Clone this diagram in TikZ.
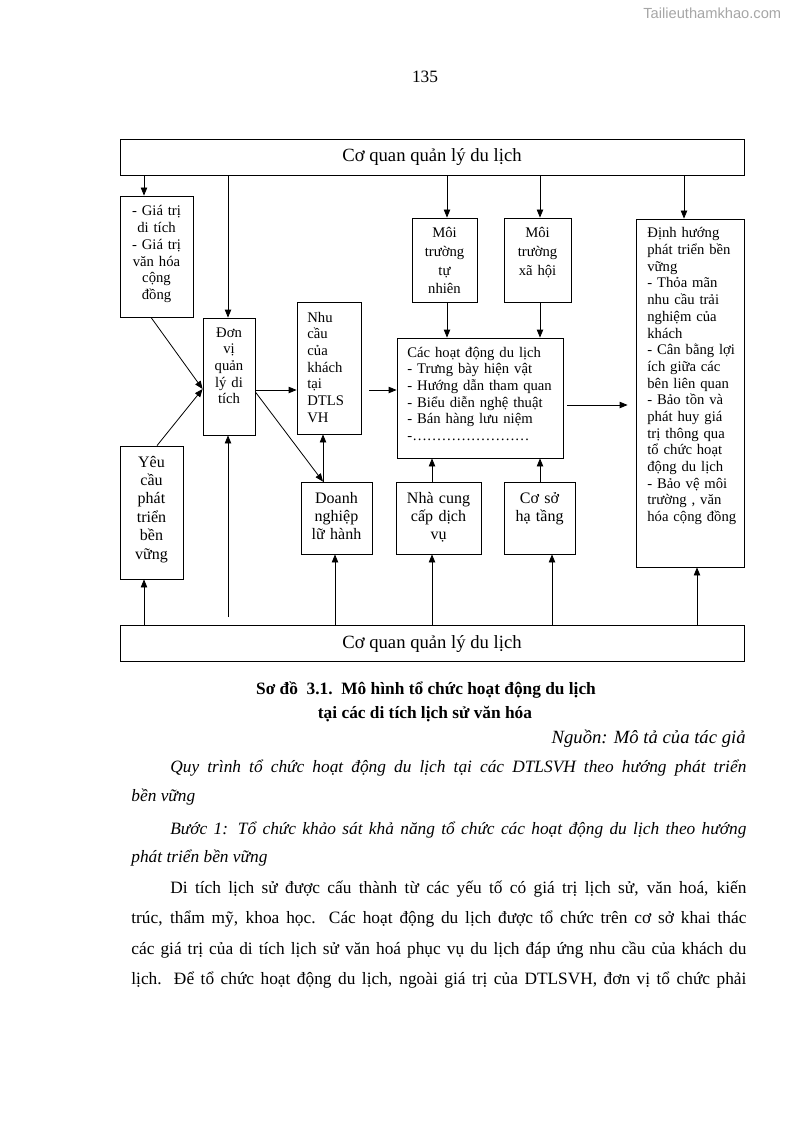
\documentclass[tikz,border=0pt]{standalone}
\usepackage{fontspec}
\setmainfont{Liberation Serif}
\newfontfamily\wmfont{Liberation Sans}
\usetikzlibrary{positioning, arrows.meta, fit}

\begin{document}
\begin{tikzpicture}[x=0.75pt, y=-0.75pt, line width=0.6pt, >={Triangle[length=6pt, width=4.8pt]},
    arr/.style={->},
    box/.style={draw, inner sep=0pt, fit={#1}},
    txt/.style={inner sep=0pt, font=\fontsize{11}{12.5}\selectfont},
    ctr/.style={txt, align=center, anchor=base},
    lft/.style={txt, align=left, anchor=base west},
    mid/.style={font=\fontsize{12}{13.8}\selectfont},
    head/.style={inner sep=0pt, anchor=base, font=\fontsize{14}{16}\selectfont},
    body/.style={inner sep=0pt, anchor=base west, font=\fontsize{13}{15}\selectfont},
    bodyit/.style={body, font=\itshape\fontsize{13}{15}\selectfont}]
    \useasboundingbox (0,0) rectangle (794,1123);

    \node[font=\wmfont\fontsize{11}{13}\selectfont, text=black!35, anchor=base east] (wm) at (786,19) {Tailieuthamkhao.com};
    \node[font=\fontsize{13}{15}\selectfont, anchor=base] (pnum) at (425,83) {135};

    \node[box={(120,139)(744,175)}] (topq) {};
    \node[head] (topq-t) at (432,162) {Cơ quan quản lý du lịch};
    \node[box={(120,625)(744,661)}] (botq) {};
    \node[head] (botq-t) at (432,648) {Cơ quan quản lý du lịch};

    \node[box={(120,196)(193,317)}] (giatri) {};
    \node[ctr, text width=52pt] (giatri-t) at (156.5,216) {- Giá trị\\di tích\\- Giá trị\\văn hóa\\cộng\\đồng};
    \node[box={(203,318)(255,435)}] (donvi) {};
    \node[ctr, text width=36pt] (donvi-t) at (229,337) {Đơn\\vị\\quản\\lý di\\tích};
    \node[box={(297,302)(361,434)}] (nhucau) {};
    \node[lft, text width=40pt] (nhucau-t) at (307,322) {Nhu\\cầu\\của\\khách\\tại\\DTLS\\VH};
    \node[box={(412,218)(477,302)}] (moitn) {};
    \node[ctr, text width=46pt, font=\fontsize{11}{14}\selectfont] (moitn-t) at (444.5,238) {Môi\\trường\\tự\\nhiên};
    \node[box={(504,218)(571,302)}] (moixh) {};
    \node[ctr, text width=46pt, font=\fontsize{11}{14}\selectfont] (moixh-t) at (537.5,238) {Môi\\trường\\xã hội};
    \node[box={(397,338)(563,458)}] (hoatdong) {};
    \node[lft, text width=118pt] (hoatdong-t) at (407,357) {Các hoạt động du lịch\\- Trưng bày hiện vật\\- Hướng dẫn tham quan\\- Biểu diễn nghệ thuật\\- Bán hàng lưu niệm\\-……………………};
    \node[box={(636,219)(744,567)}] (dinhhuong) {};
    \node[lft, text width=76pt] (dinhhuong-t) at (647,238) {Định hướng\\phát triển bền\\vững\\- Thỏa mãn\\nhu cầu trải\\nghiệm của\\khách\\- Cân bằng lợi\\ích giữa các\\bên liên quan\\- Bảo tồn và\\phát huy giá\\trị thông qua\\tổ chức hoạt\\động du lịch\\- Bảo vệ môi\\trường , văn\\hóa cộng đồng};
    \node[box={(120,446)(183,579)}] (yeucau) {};
    \node[ctr, mid, text width=44pt] (yeucau-t) at (151.5,467) {Yêu\\cầu\\phát\\triển\\bền\\vững};
    \node[box={(301,482)(372,554)}] (doanhng) {};
    \node[ctr, mid, text width=50pt] (doanhng-t) at (336.5,503) {Doanh\\nghiệp\\lữ hành};
    \node[box={(396,482)(481,554)}] (nhacung) {};
    \node[ctr, mid, text width=60pt] (nhacung-t) at (438.5,503) {Nhà cung\\cấp dịch\\vụ};
    \node[box={(504,482)(575,554)}] (cosoht) {};
    \node[ctr, mid, text width=50pt] (cosoht-t) at (539.5,503) {Cơ sở\\hạ tầng};

    \foreach \x/\n in {144/giatri, 228/donvi, 447/moitn, 540/moixh, 684/dinhhuong}
        \draw[arr] (topq.south -| \x,0) -- (\n.north -| \x,0);
    \foreach \x/\n in {447/moitn, 540/moixh}
        \draw[arr] (\n.south -| \x,0) -- (hoatdong.north -| \x,0);
    \foreach \x/\n in {432/nhacung, 540/cosoht}
        \draw[arr] (\n.north -| \x,0) -- (hoatdong.south -| \x,0);
    \foreach \x/\n in {144/yeucau, 335/doanhng, 432/nhacung, 552/cosoht, 697/dinhhuong}
        \draw[arr] (botq.north -| \x,0) -- (\n.south -| \x,0);

    \coordinate (gap) at (228,617);
    \draw[arr] (gap) -- (donvi.south -| gap);
    \draw[arr] (giatri.south -| 151,0) -- (donvi.west |- 0,389);
    \draw[arr] (yeucau.north -| 157,0) -- (donvi.west |- 0,389);
    \draw[arr] (donvi.east |- 0,390) -- (nhucau.west |- 0,390);
    \draw[arr] (donvi.east |- 0,392) -- (doanhng.north -| 323,0);
    \draw[arr] (doanhng.north -| 323,0) -- (nhucau.south -| 323,0);
    \draw[arr, shorten <=6pt] (nhucau.east |- 0,390) -- (hoatdong.west |- 0,390);
    \draw[arr, shorten <=3pt, shorten >=6pt] (hoatdong.east |- 0,405) -- (dinhhuong.west |- 0,405);

    \node[font=\bfseries\fontsize{13}{15}\selectfont, anchor=base] (cap1) at (426,694) {Sơ đồ\ \ 3.1.\ \ Mô hình tổ chức hoạt động du lịch};
    \node[font=\bfseries\fontsize{13}{15}\selectfont, anchor=base] (cap2) at (425,718) {tại các di tích lịch sử văn hóa};
    \node[inner sep=0pt, anchor=base east, font=\itshape\fontsize{14}{16}\selectfont] (src) at (746,743) {Nguồn: Mô tả của tác giả};

    \node[bodyit] (p1) at (170,772) {\makebox[432pt][s]{Quy trình tổ chức hoạt động du lịch tại các DTLSVH theo hướng phát triển}};
    \node[bodyit] (p2) at (131,801) {bền vững};
    \node[bodyit] (p3) at (170,834) {\makebox[432pt][s]{Bước 1: Tổ chức khảo sát khả năng tổ chức các hoạt động du lịch theo hướng}};
    \node[bodyit] (p4) at (131,862) {phát triển bền vững};
    \node[body] (p5) at (170,893) {\makebox[432pt][s]{Di tích lịch sử được cấu thành từ các yếu tố có giá trị lịch sử, văn hoá, kiến}};
    \node[body] (p6) at (131,923) {\makebox[461.25pt][s]{trúc, thẩm mỹ, khoa học. Các hoạt động du lịch được tổ chức trên cơ sở khai thác}};
    \node[body] (p7) at (131,954) {\makebox[461.25pt][s]{các giá trị của di tích lịch sử văn hoá phục vụ du lịch đáp ứng nhu cầu của khách du}};
    \node[body] (p8) at (131,984) {\makebox[461.25pt][s]{lịch. Để tổ chức hoạt động du lịch, ngoài giá trị của DTLSVH, đơn vị tổ chức phải}};
\end{tikzpicture}
\end{document}
